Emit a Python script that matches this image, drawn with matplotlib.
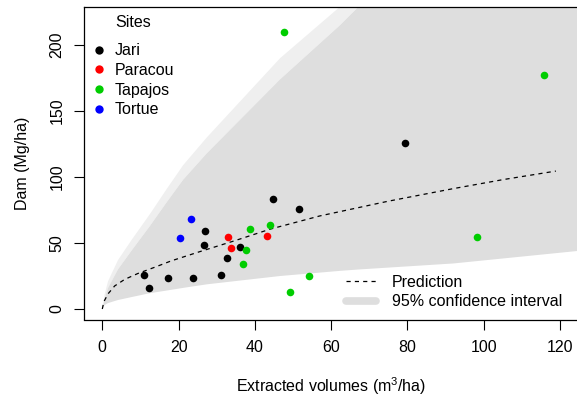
import numpy as np
import matplotlib
matplotlib.use("Agg")
import matplotlib.pyplot as plt
from matplotlib.lines import Line2D

plt.rcParams['font.family'] = ['Liberation Sans', 'DejaVu Sans']
plt.rcParams['mathtext.fontset'] = 'custom'
plt.rcParams['mathtext.rm'] = 'Liberation Sans'
plt.rcParams['mathtext.it'] = 'Liberation Sans:italic'
plt.rcParams['lines.scale_dashes'] = False

# observed plots, one list per site (volume m3/ha, damage Mg/ha)
jari_x = [44.7, 51.6, 26.8, 26.6, 36.1, 32.6, 11.0, 17.2, 23.9, 31.1, 12.3, 79.4]
jari_y = [83.3, 75.8, 59.1, 48.3, 46.7, 38.6, 25.5, 23.5, 23.5, 25.5, 15.9, 125.5]
paracou_x = [32.9, 33.7, 43.3]
paracou_y = [54.5, 46.2, 55.3]
tapajos_x = [38.6, 44.0, 37.6, 37.0, 54.2, 49.3, 115.9, 98.2, 47.7]
tapajos_y = [60.4, 63.6, 44.5, 34.1, 25.0, 12.9, 177.0, 54.3, 209.6]
tortue_x = [23.3, 20.4]
tortue_y = [68.0, 53.6]

# prediction curve
pred_x = [0, 0.4, 1.5, 3.25, 5.9, 9.4, 13.7, 18.1, 25.6, 35, 44, 57, 75, 92, 105, 118.9]
pred_y = [0, 5.5, 11.5, 17.5, 22.5, 27, 31.6, 36.5, 43.5, 52, 60.5, 70.5, 81.7, 91.2, 98, 104.5]

# confidence band edges (hi = solid edge, tip = faint hatching above it)
band_x = [0, 0.6, 1.5, 4.1, 7.6, 12.5, 16.9, 21.2, 27.4, 46.6, 62.3, 67.5, 92, 124.7]
band_lo = [0, 3, 4.5, 6.8, 9, 12, 14, 16, 18.7, 25, 28.9, 30, 34.5, 44]
band_hi = [0, 8, 16, 30, 44, 63, 81, 98, 118, 174, 215, 230, 295, 381]
band_tip = [0, 11, 21, 37, 52, 72, 91, 109, 130, 190, 229, 243, 308, 394]

sites = ['Jari', 'Paracou', 'Tapajos', 'Tortue']
site_cols = ['black', 'red', '#00cd00', 'blue']

fig = plt.figure(figsize=(5.77, 3.96), dpi=100)
ax = fig.add_axes([84 / 577, 1 - 319.5 / 396, 494 / 577, 312.5 / 396])

ax.fill_between(band_x, band_hi, band_tip, color='#efefef', lw=0, zorder=1)
ax.fill_between(band_x, band_lo, band_hi, color='#dedede', lw=0, zorder=1)
ax.plot(pred_x, pred_y, color='black', lw=0.9, dashes=(3, 3), zorder=2)

for xs, ys, c in zip([jari_x, paracou_x, tapajos_x, tortue_x],
                     [jari_y, paracou_y, tapajos_y, tortue_y], site_cols):
    ax.scatter(xs, ys, s=30, color=c, lw=0, zorder=3)

ax.set_xlim(-4.8, 124.7)
ax.set_ylim(-7.95, 228.8)
ax.set_xticks([0, 20, 40, 60, 80, 100, 120])
ax.set_yticks([0, 50, 100, 150, 200])
ax.tick_params(labelsize=11.5, length=7, width=0.8, pad=8)
ax.tick_params(axis='y', pad=7)
plt.setp(ax.get_yticklabels(), rotation=90, va='center')
for sp in ax.spines.values():
    sp.set_linewidth(0.9)

ax.set_xlabel('Extracted volumes (m$^3$/ha)', fontsize=11.5, labelpad=14.5)
ax.set_ylabel('Dam (Mg/ha)', fontsize=11.5, labelpad=14)

h1 = [Line2D([], [], ls='none', marker='o', ms=6, mew=0, color=c) for c in site_cols]
leg1 = ax.legend(h1, sites, loc='upper left', bbox_to_anchor=(0.0142, 0.884),
                 frameon=False, fontsize=11.5, handlelength=1.0, handletextpad=0.5,
                 borderpad=0, borderaxespad=0, labelspacing=0.29)
ax.add_artist(leg1)
ax.text(115, 396 - 22.7, 'Sites', transform=None, fontsize=11.5, va='center')

h2 = [Line2D([], [], color='black', lw=0.9, dashes=(3, 3)),
      Line2D([], [], color='#dedede', lw=5.5, solid_capstyle='round')]
ax.legend(h2, ['Prediction', '95% confidence interval'], loc='lower left',
          bbox_to_anchor=(0.530, 0.033), frameon=False, fontsize=11.5,
          handlelength=1.9, handletextpad=1.0, borderpad=0, borderaxespad=0,
          labelspacing=0.29)

fig.savefig('out.png', dpi=100)
